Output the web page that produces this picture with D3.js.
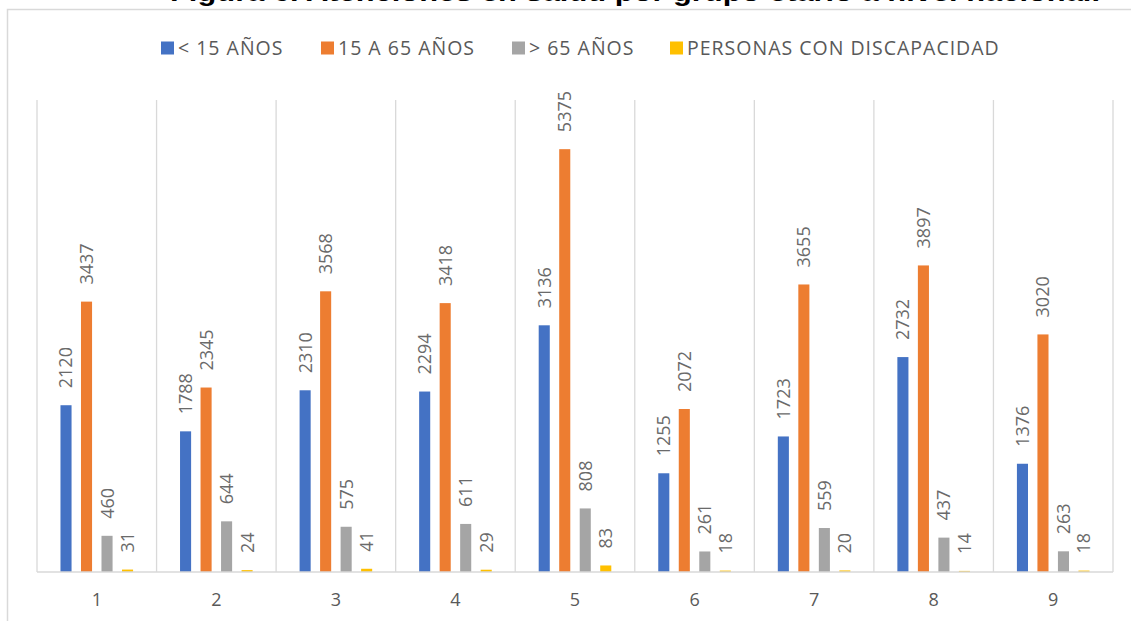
<!DOCTYPE html>
<html>
<head>
<meta charset="utf-8">
<script src="https://cdn.jsdelivr.net/npm/d3@7"></script>
<style>
  html, body { margin: 0; padding: 0; background: #ffffff; }
  svg { display: block; }
</style>
</head>
<body>
<svg id="chart" width="1131" height="621"></svg>
<script>
// ---- Data ----
const categories = ["1", "2", "3", "4", "5", "6", "7", "8", "9"];
const seriesNames = ["< 15 AÑOS", "15 A 65 AÑOS", "> 65 AÑOS", "PERSONAS CON DISCAPACIDAD"];
const menores15 = [2120, 1788, 2310, 2294, 3136, 1255, 1723, 2732, 1376];
const de15a65 = [3437, 2345, 3568, 3418, 5375, 2072, 3655, 3897, 3020];
const mayores65 = [460, 644, 575, 611, 808, 261, 559, 437, 263];
const discapacidad = [31, 24, 41, 29, 83, 18, 20, 14, 18];
const seriesColors = ["#4472C4", "#ED7D31", "#A5A5A5", "#FFC000"];
const titleText = "Figura 6. Atenciones en salud por grupo etario a nivel nacional.";

const seriesValues = [menores15, de15a65, mayores65, discapacidad];

const svg = d3.select("#chart");
const W = 1131, H = 621;
const plot = { left: 37, right: 1113, top: 100, bottom: 572 };

// Title (partially cut off at the top, as in the reference)
svg.append("text")
  .attr("x", 170).attr("y", 1)
  .attr("font-family", "Liberation Sans, Arial, sans-serif")
  .attr("font-weight", "bold")
  .attr("font-size", 26)
  .attr("fill", "#000")
  .attr("textLength", 930)
  .attr("lengthAdjust", "spacingAndGlyphs")
  .text(titleText);

// Chart border
svg.append("rect")
  .attr("x", 7.5).attr("y", 9.5)
  .attr("width", W + 10).attr("height", H + 10)
  .attr("fill", "none")
  .attr("stroke", "#d9d9d9")
  .attr("stroke-width", 1.5);

// Scales
const x0 = d3.scaleBand().domain(categories).range([plot.left, plot.right]).paddingInner(0).paddingOuter(0);
const catW = x0.bandwidth();
const x1 = d3.scaleBand().domain(d3.range(seriesNames.length))
  .range([catW / 2 - 36.3, catW / 2 + 36.3]).paddingInner(0.46).paddingOuter(0);
const y = d3.scaleLinear().domain([0, 6000]).range([plot.bottom, plot.top]);

// Vertical category gridlines
const bounds = categories.map(c => x0(c)).concat([plot.right]);
svg.append("g").selectAll("line").data(bounds).join("line")
  .attr("x1", d => d).attr("x2", d => d)
  .attr("y1", plot.top).attr("y2", plot.bottom)
  .attr("stroke", "#d9d9d9").attr("stroke-width", 1.3);

// Bars
const groups = svg.append("g").selectAll("g").data(categories).join("g")
  .attr("transform", c => `translate(${x0(c)},0)`);

const flat = (c, ci) => seriesValues.map((arr, si) => ({ si, v: arr[ci] }));

groups.each(function (c, ci) {
  const g = d3.select(this);
  const d = flat(c, ci);
  g.selectAll("rect").data(d).join("rect")
    .attr("x", e => x1(e.si))
    .attr("width", x1.bandwidth())
    .attr("y", e => y(e.v))
    .attr("height", e => y(0) - y(e.v))
    .attr("fill", e => seriesColors[e.si]);
  g.selectAll("text").data(d).join("text")
    .attr("transform", e => `translate(${x1(e.si) + x1.bandwidth() / 2},${y(e.v) - 17}) rotate(-90)`)
    .attr("dy", "0.36em")
    .attr("text-anchor", "start")
    .attr("font-family", "Open Sans, sans-serif")
    .attr("font-size", 18)
    .attr("fill", "#6a6a6a")
    .text(e => e.v);
});

// X axis baseline
svg.append("line")
  .attr("x1", plot.left).attr("x2", plot.right)
  .attr("y1", plot.bottom).attr("y2", plot.bottom)
  .attr("stroke", "#d9d9d9").attr("stroke-width", 1.5);

// X axis labels
const xAxis = d3.axisBottom(x0).tickSize(0).tickPadding(0);
const ax = svg.append("g").attr("transform", `translate(0,${plot.bottom})`).call(xAxis);
ax.select(".domain").remove();
ax.selectAll("text")
  .attr("y", 34).attr("dy", 0)
  .attr("font-family", "Open Sans, sans-serif")
  .attr("font-size", 18)
  .attr("fill", "#595959");

// Legend
const legendX = [161, 321, 512, 670];
const lg = svg.append("g").selectAll("g").data(seriesNames).join("g")
  .attr("transform", (d, i) => `translate(${legendX[i]},41.5)`);
lg.append("rect").attr("width", 13).attr("height", 13)
  .attr("fill", (d, i) => seriesColors[i]);
lg.append("text").attr("x", 17).attr("y", 13.5)
  .attr("font-family", "Open Sans, sans-serif")
  .attr("font-size", 19.5)
  .attr("letter-spacing", 1)
  .attr("fill", "#595959")
  .text(d => d);
</script>
</body>
</html>
